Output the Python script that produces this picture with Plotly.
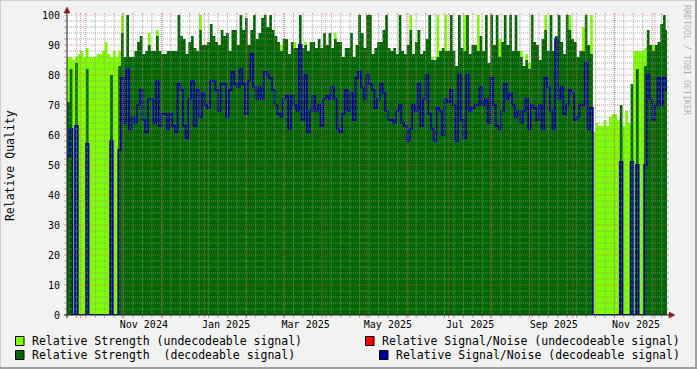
import datetime as dt
import plotly.graph_objects as go

# ---------------- data (2-day samples starting at START) ----------------
START = dt.datetime(2024, 9, 21)
STEP_DAYS = 2
END = dt.datetime(2025, 12, 10)

strength_undecodeable = [
    86, 86, 85, 86, 87, 88, 86, 89, 86, 86, 86, 87, 87, 88, 91, 87, 86, 88, 86, 88,
    100,
    0, 0, 0, 0, 0, 0, 0, 0, 0, 94, 0, 0, 95, 0, 0, 0, 0, 0,
    0, 0, 0, 0, 0, 0, 0, 0, 0, 0, 100, 0, 0, 0, 0, 0, 0, 0, 0, 0,
    0, 0, 0, 0, 0, 0, 0, 0, 0, 0, 0, 0, 0, 0, 0, 0,
    0, 0, 0, 0, 90, 0, 0, 0, 0, 91, 0, 0, 0, 91, 0, 0, 0, 0, 0, 0,
    0, 0, 0, 0, 94, 0, 0, 0, 0, 0, 0, 0, 0, 0, 0, 0, 0,
    0, 0, 0, 0, 0, 0, 0, 0, 0, 0, 0, 0, 0, 0, 0, 100, 0, 0, 95, 0,
    0, 0, 0, 86, 0, 100, 0, 0, 100, 0, 0, 0, 0, 0, 0, 100, 100,
    0, 0, 0, 100, 0, 0, 0, 0, 0, 0, 0, 92, 0, 0, 0, 0, 0, 0, 0, 88,
    0, 87, 84, 0, 0, 0, 0, 0, 100, 0, 0, 0, 0, 0, 0, 0, 0, 100,
    0, 0, 0, 0, 96, 0, 0, 100,
    61, 64, 63, 63, 65, 63, 66, 67, 67, 65, 64, 63, 68, 64, 63, 88, 88, 88, 88, 89,
    0, 0, 90, 0, 0, 0, 0, 0,
]

strength_decodeable = [
    71, 82, 0, 84, 0, 0, 0, 82, 0, 0, 0, 0, 0, 0, 0, 0, 80, 0, 0, 83,
    94,
    86, 100, 86, 86, 88, 91, 93, 87, 88, 90, 88, 88, 93, 88, 87, 87, 88, 88,
    88, 88, 100, 93, 92, 87, 91, 93, 89, 88, 95, 90, 90, 91, 97, 93, 91, 90,
    95, 93, 94, 88, 95, 95, 90, 100, 95, 99, 90, 95, 100, 92, 94, 99, 100, 96,
    100, 95, 93, 91, 88, 92, 92, 87, 91, 89, 89, 100, 89, 90, 88, 91, 91, 89,
    92, 89, 94, 90, 94, 89, 92, 91, 91, 86, 89, 89, 94, 86, 90, 100, 94, 89, 100,
    100, 87, 89, 91, 91, 95, 100, 89, 88, 89, 87, 100, 88, 87, 90, 95, 87, 91,
    95, 87, 88, 92, 100, 85, 85, 86, 88, 89, 88, 88, 100, 88, 83, 100, 89, 88, 100,
    87, 90, 90, 88, 93, 88, 100, 84, 100, 90, 100, 86, 91, 100, 90, 100, 88, 100,
    88, 86, 83, 85, 82, 100, 91, 90, 85, 92, 95, 88, 100, 88, 93, 100, 91, 87, 100, 95,
    92, 91, 86, 88, 88, 100, 90, 87,
    0, 0, 0, 0, 0, 0, 0, 0, 0, 0, 70, 0, 0, 0, 77, 0, 82, 0, 0, 83,
    95, 90, 88, 90, 91, 97, 100, 95,
]

snr_undecodeable = [None] * len(strength_decodeable)

snr_decodeable = [
    53, 62, 0, 63, 0, 0, 0, 57, 0, 0, 0, 0, 0, 0, 0, 0, 58, 0, 0, 55,
    79,
    64, 82, 62, 66, 64, 70, 75, 65, 61, 72, 72, 64, 78, 63, 67, 67, 62, 67,
    63, 61, 77, 75, 63, 59, 72, 78, 63, 75, 66, 74, 70, 69, 78, 78, 75, 68,
    77, 77, 66, 75, 81, 77, 76, 82, 77, 67, 78, 87, 76, 72, 76, 72, 81, 80,
    79, 75, 70, 67, 66, 72, 73, 62, 73, 70, 68, 90, 65, 80, 61, 68, 73, 68,
    70, 63, 72, 73, 72, 76, 72, 62, 61, 67, 75, 68, 74, 65, 79, 81, 76, 72, 80,
    77, 75, 69, 72, 77, 74, 68, 65, 65, 64, 68, 70, 64, 63, 58, 62, 70, 68,
    77, 63, 72, 80, 67, 62, 58, 69, 68, 60, 72, 71, 75, 70, 58, 80, 65, 59, 80,
    68, 69, 70, 70, 76, 70, 72, 64, 79, 70, 63, 62, 68, 77, 72, 74, 70, 66,
    68, 64, 68, 72, 62, 70, 69, 65, 70, 62, 79, 76, 68, 62, 92, 72, 76, 67, 70, 75,
    74, 65, 66, 70, 70, 84, 62, 69,
    0, 0, 0, 0, 0, 0, 0, 0, 0, 0, 51, 0, 0, 0, 51, 0, 50, 0, 0, 50,
    80, 72, 65, 70, 79, 70, 79, 75,
]

x_tick_labels = ["Nov 2024", "Jan 2025", "Mar 2025", "May 2025", "Jul 2025", "Sep 2025", "Nov 2025"]
x_tick_months = [(2024, 11), (2025, 1), (2025, 3), (2025, 5), (2025, 7), (2025, 9), (2025, 11)]
y_ticks = list(range(0, 101, 10))

series_names = [
    "Relative Strength (undecodeable signal)",
    "Relative Signal/Noise (undecodeable signal)",
    "Relative Strength  (decodeable signal)",
    "Relative Signal/Noise (decodeable signal)",
]

# ---------------- styling ----------------
FONT = "DejaVu Sans Mono"
C_LIGHT = "#80FF00"
C_DARK = "#006600"
C_RED = "#FF0000"
C_BLUE = "#000096"
C_BACK = "#F2F2F2"
C_GRID = "rgba(143,143,143,0.75)"
C_MGRID = "rgba(222,79,79,0.6)"
C_ARROW = "#7F1F1F"
C_AXIS = "#1F1F1F"

W, H = 697, 369
L, R, T, B = 67, 30, 15, 54
PW, PH = W - L - R, H - T - B


def px(x):
    return (x - L) / PW


def py(y):
    return (T + PH - y) / PH


n = len(strength_decodeable)
dates = [START + dt.timedelta(days=STEP_DAYS * i) for i in range(n + 1)]


def stepped(vals):
    return list(vals) + [vals[-1]]


fig = go.Figure()
fig.add_trace(go.Scatter(x=dates, y=stepped(strength_undecodeable), mode="lines",
                         line=dict(shape="hv", width=0, color=C_LIGHT),
                         fill="tozeroy", fillcolor=C_LIGHT, name=series_names[0],
                         hoverinfo="skip"))
fig.add_trace(go.Scatter(x=dates, y=stepped(snr_undecodeable), mode="lines",
                         line=dict(shape="hv", width=2, color=C_RED), name=series_names[1],
                         hoverinfo="skip"))
fig.add_trace(go.Scatter(x=dates, y=stepped(strength_decodeable), mode="lines",
                         line=dict(shape="hv", width=0, color=C_DARK),
                         fill="tozeroy", fillcolor=C_DARK, name=series_names[2],
                         hoverinfo="skip"))
fig.add_trace(go.Scatter(x=dates, y=stepped(snr_decodeable), mode="lines",
                         line=dict(shape="hv", width=1.8, color=C_BLUE), name=series_names[3],
                         hoverinfo="skip"))

shapes = []
# horizontal grid + ticks
for v in range(2, 101, 2):
    col = C_MGRID if v % 10 == 0 else C_GRID
    shapes.append(dict(type="line", xref="paper", yref="y", x0=0, x1=1, y0=v, y1=v,
                       line=dict(color=col, width=1, dash="1px,1px"), layer="above"))
for v in range(0, 101, 2):
    col = C_MGRID if v % 10 == 0 else C_GRID
    shapes.append(dict(type="line", xref="paper", yref="y", x0=px(L - 3), x1=0, y0=v, y1=v,
                       line=dict(color=col, width=1), layer="above"))
    shapes.append(dict(type="line", xref="paper", yref="y", x0=1, x1=px(L + PW + 2), y0=v, y1=v,
                       line=dict(color=col, width=1), layer="above"))

# vertical grid: weekly (minor) and monthly (major)
weeks = []
d = START + dt.timedelta(days=7)
while d < END:
    weeks.append(d)
    d += dt.timedelta(days=7)
months = []
yy, mm = 2024, 10
while True:
    md = dt.datetime(yy, mm, 1)
    if md >= END:
        break
    months.append(md)
    mm += 1
    if mm > 12:
        yy, mm = yy + 1, 1
for lst, col in ((weeks, C_GRID), (months, C_MGRID)):
    for d in lst:
        shapes.append(dict(type="line", xref="x", yref="paper", x0=d, x1=d, y0=0, y1=1,
                           line=dict(color=col, width=1, dash="1px,1px"), layer="above"))
        shapes.append(dict(type="line", xref="x", yref="paper", x0=d, x1=d, y0=py(T + PH + 3), y1=0,
                           line=dict(color=col, width=1), layer="above"))
        shapes.append(dict(type="line", xref="x", yref="paper", x0=d, x1=d, y0=1, y1=py(T - 2),
                           line=dict(color=col, width=1), layer="above"))

# axes with arrows
shapes.append(dict(type="line", xref="paper", yref="paper", x0=px(L - 3), x1=px(L + PW + 4),
                   y0=0, y1=0, line=dict(color=C_AXIS, width=1), layer="above"))
shapes.append(dict(type="line", xref="paper", yref="paper", x0=0, x1=0,
                   y0=py(T + PH + 3), y1=py(T - 5), line=dict(color=C_AXIS, width=1), layer="above"))
shapes.append(dict(type="path", xref="paper", yref="paper",
                   path=f"M {px(L+PW+2)} {py(T+PH-3)} L {px(L+PW+8)} {py(T+PH)} L {px(L+PW+2)} {py(T+PH+3)} Z",
                   fillcolor=C_ARROW, line=dict(color=C_ARROW, width=0.5), layer="above"))
shapes.append(dict(type="path", xref="paper", yref="paper",
                   path=f"M {px(L-3)} {py(T-2)} L {px(L)} {py(T-8)} L {px(L+3)} {py(T-2)} Z",
                   fillcolor=C_ARROW, line=dict(color=C_ARROW, width=0.5), layer="above"))

# outer shading border
shapes.append(dict(type="line", xref="paper", yref="paper", x0=px(0), x1=px(W), y0=py(0.5), y1=py(0.5),
                   line=dict(color="#CFCFCF", width=1)))
shapes.append(dict(type="line", xref="paper", yref="paper", x0=px(0.5), x1=px(0.5), y0=py(0), y1=py(H),
                   line=dict(color="#CFCFCF", width=1)))
shapes.append(dict(type="line", xref="paper", yref="paper", x0=px(0), x1=px(W), y0=py(H - 1), y1=py(H - 1),
                   line=dict(color="#9E9E9E", width=2)))
shapes.append(dict(type="line", xref="paper", yref="paper", x0=px(W - 1), x1=px(W - 1), y0=py(0), y1=py(H),
                   line=dict(color="#9E9E9E", width=2)))

# legend
legend_items = [
    (C_LIGHT, 15.5, 30, 341, series_names[0]),
    (C_RED, 365.5, 380, 341, series_names[1]),
    (C_DARK, 15.5, 30, 355, series_names[2]),
    (C_BLUE, 379.5, 394, 355, series_names[3]),
]
annotations = []
for col, sx, tx, cy, label in legend_items:
    shapes.append(dict(type="rect", xref="paper", yref="paper",
                       x0=px(sx), x1=px(sx + 8.5), y0=py(cy - 4.5), y1=py(cy + 4.5),
                       fillcolor=col, line=dict(color="#000000", width=1)))
    annotations.append(dict(x=px(tx), y=py(cy), xref="paper", yref="paper", text=label,
                            showarrow=False, xanchor="left", yanchor="middle",
                            font=dict(family=FONT, size=11.5, color="#000000")))

annotations.append(dict(x=px(10.7), y=py(165.4), xref="paper", yref="paper", text="Relative Quality",
                        textangle=-90, showarrow=False, xanchor="center", yanchor="middle",
                        font=dict(family=FONT, size=11.5, color="#000000")))
annotations.append(dict(x=px(687), y=py(60), xref="paper", yref="paper", text="RRDTOOL / TOBI OETIKER",
                        textangle=90, showarrow=False, xanchor="center", yanchor="middle",
                        font=dict(family=FONT, size=8.3, color="rgba(0,0,0,0.3)")))

tick_dates = [dt.datetime(y, m, 1) + dt.timedelta(days=16) for y, m in x_tick_months]

fig.update_layout(
    width=W, height=H,
    margin=dict(l=L, r=R, t=T, b=B, pad=0, autoexpand=False),
    paper_bgcolor=C_BACK, plot_bgcolor="#FFFFFF",
    showlegend=False,
    shapes=shapes, annotations=annotations,
    font=dict(family=FONT, size=10, color="#000000"),
    xaxis=dict(range=[START, END], type="date", showgrid=False, zeroline=False, showline=False,
               tickvals=tick_dates, ticktext=x_tick_labels, ticks="", ticklabelstandoff=2,
               tickfont=dict(family=FONT, size=10, color="#000000"), fixedrange=True,
               automargin=False),
    yaxis=dict(range=[0, 100], showgrid=False, zeroline=False, showline=False,
               tickvals=y_ticks, ticktext=[str(v) for v in y_ticks], ticks="", ticklabelstandoff=6,
               tickfont=dict(family=FONT, size=10, color="#000000"), fixedrange=True,
               automargin=False),
)

fig.write_html("out.html", config={"displayModeBar": False},
               post_script="document.body.style.margin='0';document.body.style.overflow='hidden';")
